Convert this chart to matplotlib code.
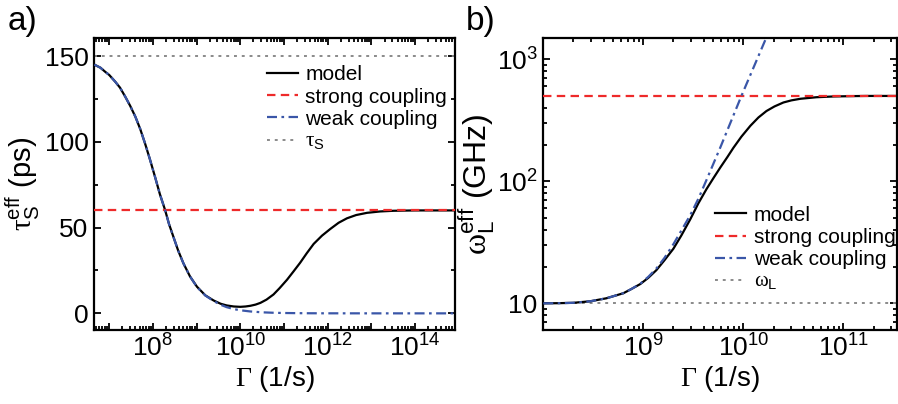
import numpy as np
import matplotlib
matplotlib.use("Agg")
import matplotlib.pyplot as plt
from matplotlib.ticker import FixedLocator, FixedFormatter, NullFormatter

plt.rcParams['font.family'] = ['Liberation Sans', 'DejaVu Sans']
plt.rcParams['mathtext.fontset'] = 'custom'
plt.rcParams['mathtext.rm'] = 'Liberation Sans'
plt.rcParams['mathtext.it'] = 'Liberation Sans:italic'
plt.rcParams['mathtext.sf'] = 'Liberation Serif'

# panel a) : effective spin lifetime vs Gamma (log10 of Gamma, ps)
a_logG = [6.66, 6.8, 6.91, 7.0, 7.14, 7.25, 7.37, 7.48, 7.60, 7.71, 7.82, 7.93,
          8.05, 8.16, 8.28, 8.37, 8.47, 8.58, 8.70, 8.85, 9.01, 9.2, 9.39, 9.55,
          9.69, 9.85, 10.0, 10.12, 10.23, 10.35, 10.46, 10.6, 10.76, 10.9, 11.07,
          11.22, 11.37, 11.52, 11.68, 11.87, 12.06, 12.25, 12.44, 12.65, 12.90,
          13.2, 13.51, 14.0, 14.92]
a_model = [145, 143.2, 140.8, 139, 135, 131.5, 126.2, 121, 114.6, 107.5, 99.1, 90,
           79.5, 69.5, 60.2, 52, 44.6, 36.5, 29.1, 21.5, 15.5, 10.5, 7.5, 5.6,
           4.6, 4.0, 3.8, 4.0, 4.4, 5.1, 6.1, 8.0, 11.0, 14.7, 19.6,
           24.5, 29.5, 35, 40.5, 45.3, 49.2, 52.8, 55.4, 57.3, 58.6,
           59.4, 59.8, 60, 60]
a_weak_logG = [6.66, 6.8, 6.91, 7.0, 7.14, 7.25, 7.37, 7.48, 7.60, 7.71, 7.82, 7.93,
               8.05, 8.16, 8.28, 8.37, 8.47, 8.58, 8.70, 8.85, 9.01, 9.2, 9.39, 9.55,
               9.69, 9.85, 10.0, 10.23, 10.5, 10.75, 11.0, 11.5, 12.0, 13.0, 14.92]
a_weak = [145, 143.2, 140.8, 139, 135, 131.5, 126.2, 121, 114.6, 107.5, 99.1, 90,
          79.5, 69.5, 60.2, 52, 44.6, 36.5, 29.1, 21.5, 15.3, 10.4, 7.2, 5.0,
          3.6, 2.5, 1.8, 1.1, 0.6, 0.35, 0.2, 0.06, 0.02, 0.0, 0.0]
a_strong = 60
a_tau_s = 150

# panel b) : effective Larmor frequency vs Gamma (log10 of Gamma, GHz)
b_logG = [8.0, 8.15, 8.30, 8.47, 8.63, 8.80, 8.88, 8.97, 9.05, 9.13, 9.21, 9.30,
          9.38, 9.47, 9.55, 9.63, 9.70, 9.77, 9.84, 9.90, 9.98, 10.07, 10.15,
          10.23, 10.31, 10.40, 10.48, 10.57, 10.73, 10.90, 11.1, 11.23, 11.53]
b_model = [10.0, 10.03, 10.1, 10.4, 11.0, 12.1, 13.1, 14.4, 16.2, 18.7, 22.5, 28,
           36, 49, 66, 86, 106, 130, 158, 188, 232, 285, 333,
           376, 410, 442, 460, 474, 488, 495, 498.5, 500, 500]
b_weak_logG = [8.0, 8.15, 8.30, 8.47, 8.63, 8.80, 8.88, 8.97, 9.05, 9.13, 9.21,
               9.30, 9.38, 9.47, 9.55, 9.63, 9.77, 9.98, 10.10, 10.25]
b_weak = [10.0, 10.03, 10.1, 10.4, 11.0, 12.1, 13.1, 14.5, 16.5, 19.3, 23.5,
          30.5, 39.5, 53, 72, 102, 190, 500, 850, 1650]
b_strong = 500
b_omega_l = 10

c_red = '#ee2a2a'
c_blue = '#3a56a8'
c_grey = '#8a8a8a'

fig = plt.figure(figsize=(8.98, 4.04), dpi=100)
ax1 = fig.add_axes([0.1047, 0.1832, 0.402, 0.7235])
ax2 = fig.add_axes([0.605, 0.1832, 0.3935, 0.7235])

dash_red = (0, (3.8, 2.4))
dash_blue = (0, (4.5, 2, 1.2, 2))
dot_grey = (0, (1.5, 2.5))

# ---- panel a
g = 10.0 ** np.array(a_logG)
gw = 10.0 ** np.array(a_weak_logG)
ax1.plot(g, a_model, color='k', lw=1.6, label='model', zorder=3)
ax1.axhline(a_strong, color=c_red, lw=1.6, ls=dash_red, label='strong coupling', zorder=4)
ax1.plot(gw, a_weak, color=c_blue, lw=1.6, ls=dash_blue, label='weak coupling', zorder=4)
ax1.axhline(a_tau_s, color=c_grey, lw=1.4, ls=dot_grey, label=r'$\mathsf{\tau}_\mathrm{S}$')
ax1.set_xscale('log')
ax1.set_xlim(4.5e6, 8.2e14)
ax1.set_ylim(-9.7, 160.7)
ax1.xaxis.set_major_locator(FixedLocator([10.0 ** k for k in range(7, 15)]))
ax1.xaxis.set_major_formatter(FixedFormatter(
    ['', r'$\mathdefault{10^{8}}$', '', r'$\mathdefault{10^{10}}$', '',
     r'$\mathdefault{10^{12}}$', '', r'$\mathdefault{10^{14}}$']))
ax1.xaxis.set_minor_locator(FixedLocator([m * 10.0 ** k for k in range(6, 15) for m in range(2, 10)]))
ax1.xaxis.set_minor_formatter(NullFormatter())
ax1.set_yticks([0, 50, 100, 150])
ax1.set_yticks([25, 75, 125], minor=True)
ax1.set_xlabel(r'$\mathsf{\Gamma}$ (1/s)', fontsize=20, labelpad=2)
ax1.set_ylabel(r'$\mathsf{\tau}_\mathrm{S}^\mathrm{eff}$ (ps)', fontsize=21, labelpad=2)
ax1.legend(loc='upper left', bbox_to_anchor=(0.479, 0.905), frameon=False, fontsize=15,
           borderpad=0, borderaxespad=0, labelspacing=0.15, handlelength=1.5,
           handletextpad=0.35)

# ---- panel b
g = 10.0 ** np.array(b_logG)
gw = 10.0 ** np.array(b_weak_logG)
ax2.plot(g, b_model, color='k', lw=1.6, label='model', zorder=3)
ax2.axhline(b_strong, color=c_red, lw=1.6, ls=dash_red, label='strong coupling', zorder=4)
ax2.plot(gw, b_weak, color=c_blue, lw=1.6, ls=dash_blue, label='weak coupling', zorder=4)
ax2.axhline(b_omega_l, color=c_grey, lw=1.4, ls=dot_grey, label=r'$\mathsf{\omega}_\mathrm{L}$')
ax2.set_xscale('log')
ax2.set_yscale('log')
ax2.set_xlim(1e8, 3.4e11)
ax2.set_ylim(6.05, 1500)
ax2.xaxis.set_major_locator(FixedLocator([1e9, 1e10, 1e11]))
ax2.xaxis.set_major_formatter(FixedFormatter(
    [r'$\mathdefault{10^{9}}$', r'$\mathdefault{10^{10}}$', r'$\mathdefault{10^{11}}$']))
ax2.xaxis.set_minor_locator(FixedLocator([m * 10.0 ** k for k in range(8, 12) for m in range(2, 10)]))
ax2.xaxis.set_minor_formatter(NullFormatter())
ax2.yaxis.set_major_locator(FixedLocator([10, 100, 1000]))
ax2.yaxis.set_major_formatter(FixedFormatter(
    ['10', r'$\mathdefault{10^{2}}$', r'$\mathdefault{10^{3}}$']))
ax2.yaxis.set_minor_locator(FixedLocator([m * 10.0 ** k for k in range(0, 4) for m in range(2, 10)]))
ax2.yaxis.set_minor_formatter(NullFormatter())
ax2.set_xlabel(r'$\mathsf{\Gamma}$ (1/s)', fontsize=20, labelpad=2)
ax2.set_ylabel(r'$\mathsf{\omega}_\mathrm{L}^\mathrm{eff}$ (GHz)', fontsize=23, labelpad=0)
ax2.legend(loc='upper left', bbox_to_anchor=(0.486, 0.425), frameon=False, fontsize=15,
           borderpad=0, borderaxespad=0, labelspacing=0.15, handlelength=1.5,
           handletextpad=0.35)

for ax in (ax1, ax2):
    for s in ax.spines.values():
        s.set_linewidth(1.6)
    ax.tick_params(which='both', direction='in', top=True, right=True, width=1.3)
    ax.tick_params(which='major', length=5, labelsize=19)
    ax.tick_params(which='minor', length=3)
    ax.tick_params(axis='x', which='major', pad=3)
    ax.tick_params(axis='y', which='major', pad=4)

fig.text(0.009, 0.985, 'a)', fontsize=24, va='top', ha='left')
fig.text(0.519, 0.985, 'b)', fontsize=24, va='top', ha='left')

fig.savefig('out.png', dpi=100)
